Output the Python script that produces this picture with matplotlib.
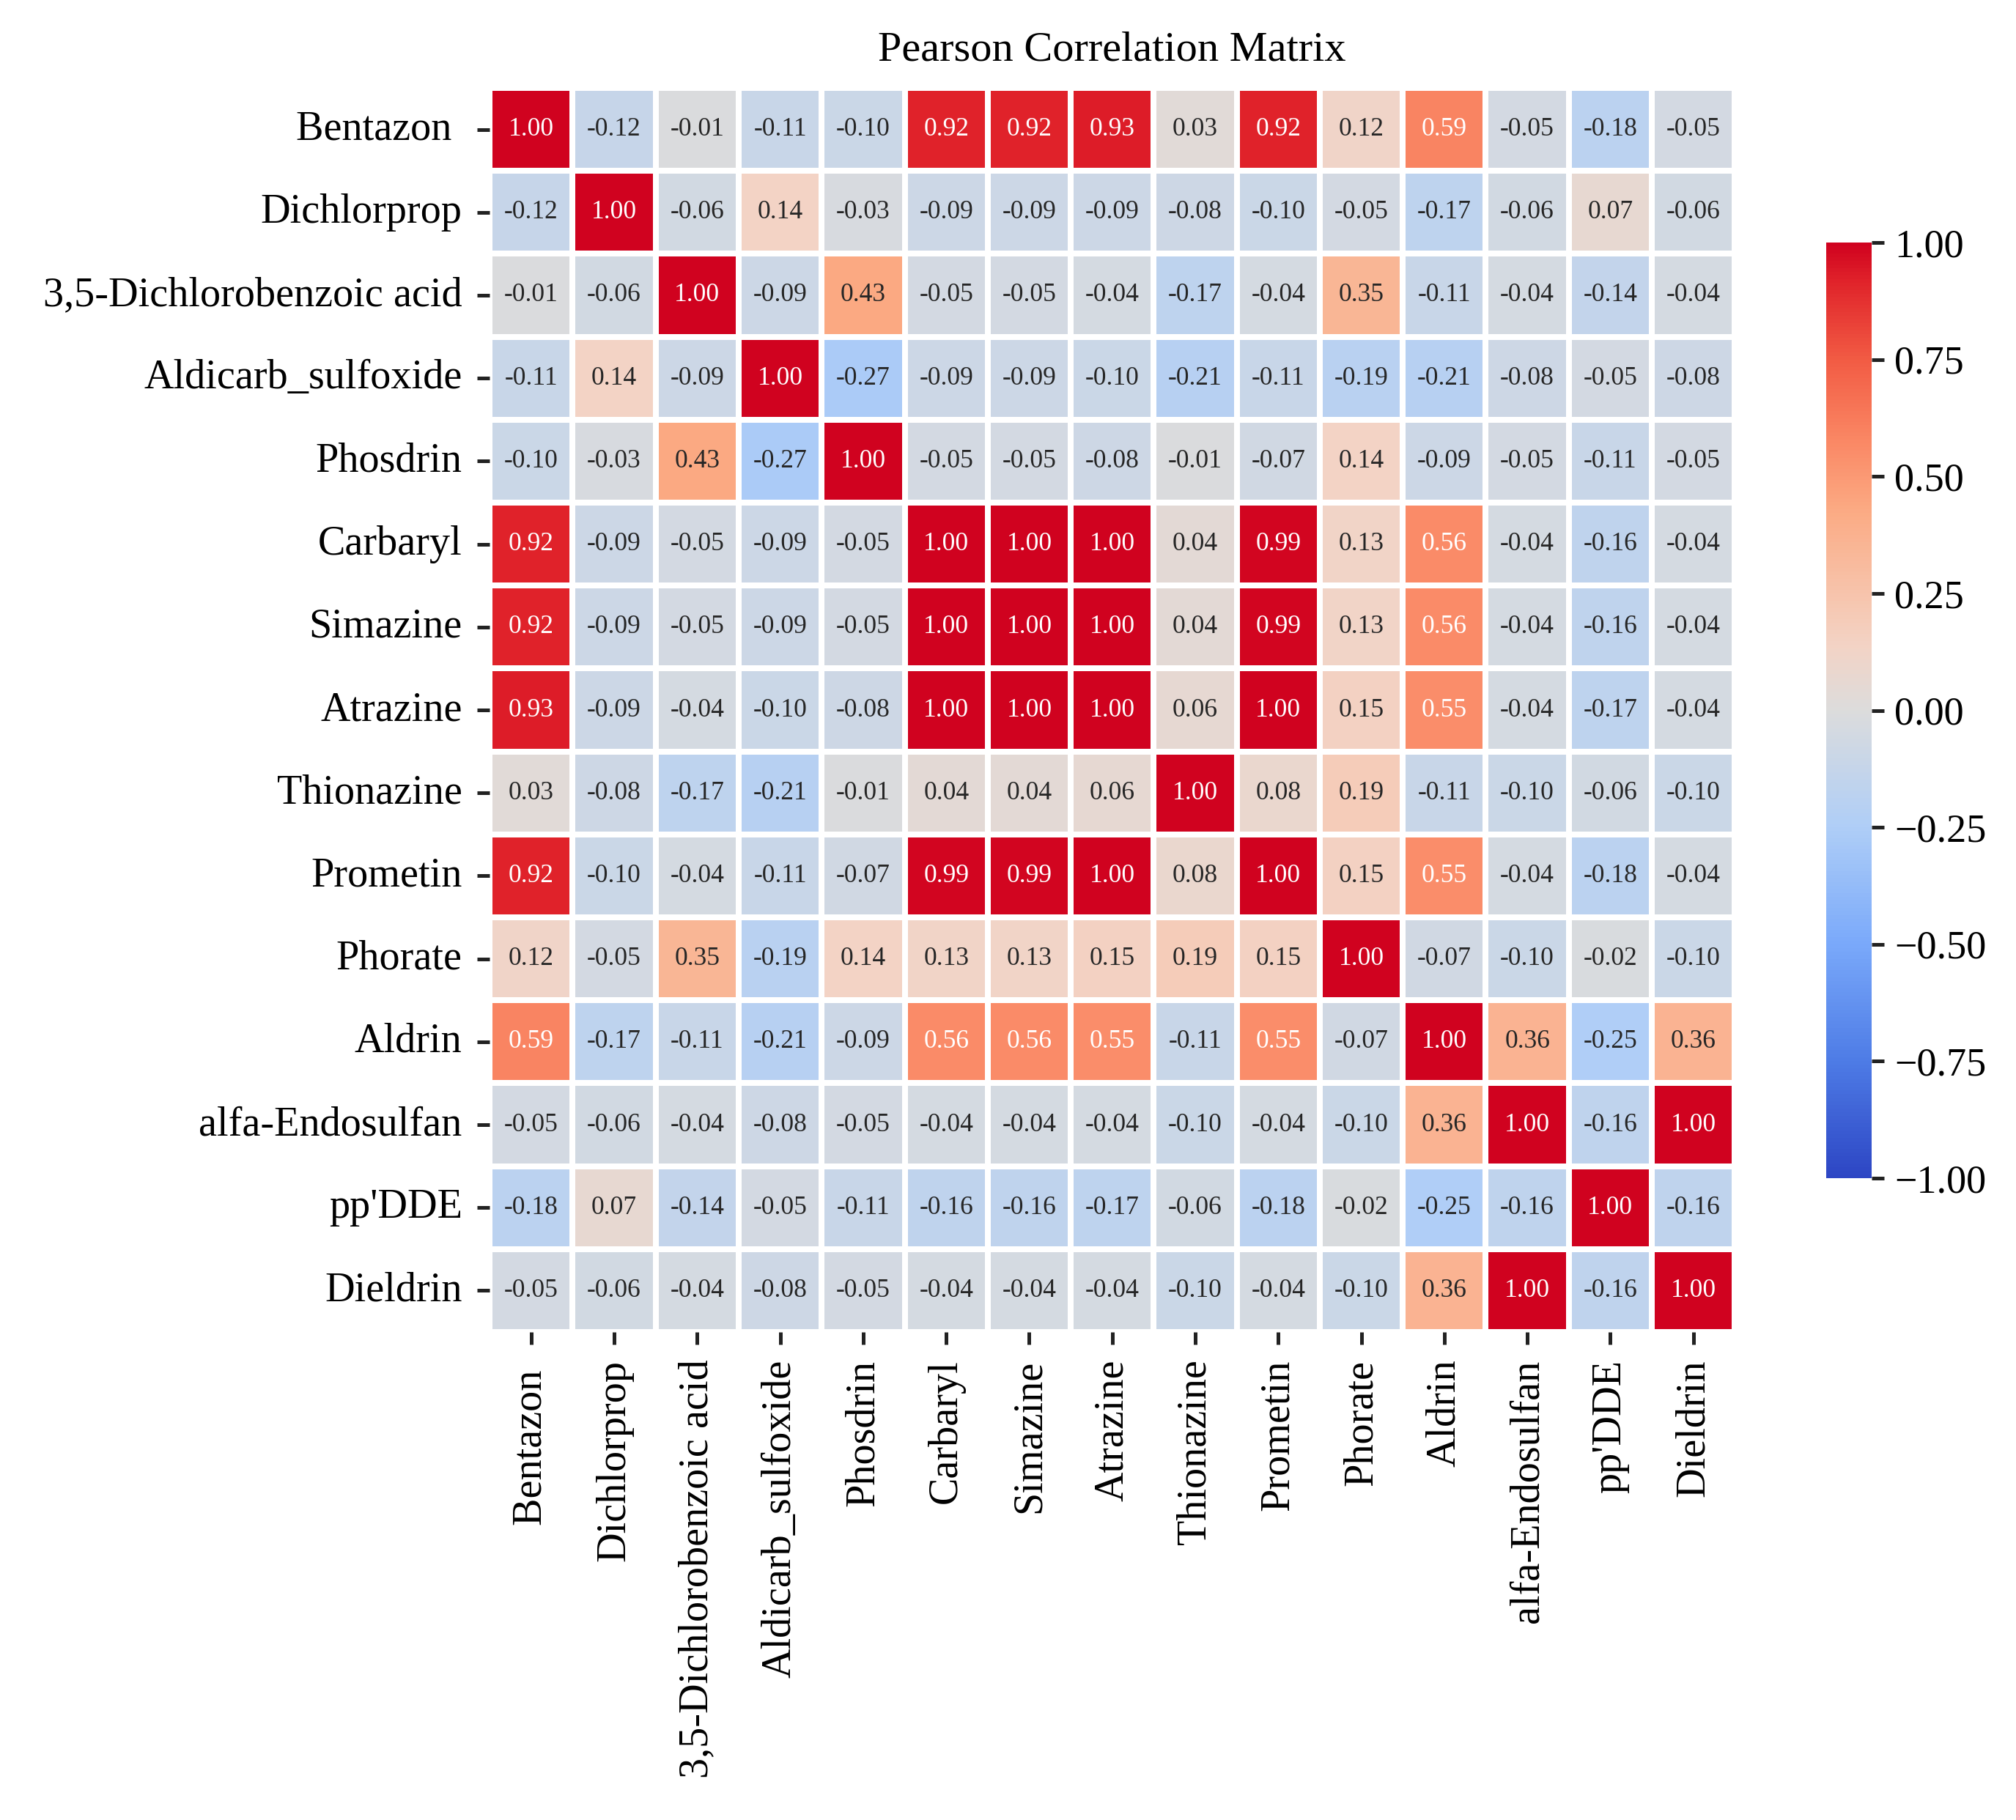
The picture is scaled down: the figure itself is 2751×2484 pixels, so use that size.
import numpy as np
import pandas as pd
import matplotlib
matplotlib.use("Agg")
import matplotlib.pyplot as plt
from matplotlib.colors import LinearSegmentedColormap
import seaborn as sns

labels = ["Bentazon ", "Dichlorprop", "3,5-Dichlorobenzoic acid", "Aldicarb_sulfoxide",
          "Phosdrin", "Carbaryl", "Simazine", "Atrazine", "Thionazine", "Prometin",
          "Phorate", "Aldrin", "alfa-Endosulfan", "pp'DDE", "Dieldrin"]

bentazon    = [1.00, -0.12, -0.01, -0.11, -0.10, 0.92, 0.92, 0.93, 0.03, 0.92, 0.12, 0.59, -0.05, -0.18, -0.05]
dichlorprop = [-0.12, 1.00, -0.06, 0.14, -0.03, -0.09, -0.09, -0.09, -0.08, -0.10, -0.05, -0.17, -0.06, 0.07, -0.06]
dcba        = [-0.01, -0.06, 1.00, -0.09, 0.43, -0.05, -0.05, -0.04, -0.17, -0.04, 0.35, -0.11, -0.04, -0.14, -0.04]
aldicarb    = [-0.11, 0.14, -0.09, 1.00, -0.27, -0.09, -0.09, -0.10, -0.21, -0.11, -0.19, -0.21, -0.08, -0.05, -0.08]
phosdrin    = [-0.10, -0.03, 0.43, -0.27, 1.00, -0.05, -0.05, -0.08, -0.01, -0.07, 0.14, -0.09, -0.05, -0.11, -0.05]
carbaryl    = [0.92, -0.09, -0.05, -0.09, -0.05, 1.00, 1.00, 1.00, 0.04, 0.99, 0.13, 0.56, -0.04, -0.16, -0.04]
simazine    = [0.92, -0.09, -0.05, -0.09, -0.05, 1.00, 1.00, 1.00, 0.04, 0.99, 0.13, 0.56, -0.04, -0.16, -0.04]
atrazine    = [0.93, -0.09, -0.04, -0.10, -0.08, 1.00, 1.00, 1.00, 0.06, 1.00, 0.15, 0.55, -0.04, -0.17, -0.04]
thionazine  = [0.03, -0.08, -0.17, -0.21, -0.01, 0.04, 0.04, 0.06, 1.00, 0.08, 0.19, -0.11, -0.10, -0.06, -0.10]
prometin    = [0.92, -0.10, -0.04, -0.11, -0.07, 0.99, 0.99, 1.00, 0.08, 1.00, 0.15, 0.55, -0.04, -0.18, -0.04]
phorate     = [0.12, -0.05, 0.35, -0.19, 0.14, 0.13, 0.13, 0.15, 0.19, 0.15, 1.00, -0.07, -0.10, -0.02, -0.10]
aldrin      = [0.59, -0.17, -0.11, -0.21, -0.09, 0.56, 0.56, 0.55, -0.11, 0.55, -0.07, 1.00, 0.36, -0.25, 0.36]
endosulfan  = [-0.05, -0.06, -0.04, -0.08, -0.05, -0.04, -0.04, -0.04, -0.10, -0.04, -0.10, 0.36, 1.00, -0.16, 1.00]
ppdde       = [-0.18, 0.07, -0.14, -0.05, -0.11, -0.16, -0.16, -0.17, -0.06, -0.18, -0.02, -0.25, -0.16, 1.00, -0.16]
dieldrin    = [-0.05, -0.06, -0.04, -0.08, -0.05, -0.04, -0.04, -0.04, -0.10, -0.04, -0.10, 0.36, 1.00, -0.16, 1.00]

cbar_ticks = [-1.00, -0.75, -0.50, -0.25, 0.00, 0.25, 0.50, 0.75, 1.00]

rows = [bentazon, dichlorprop, dcba, aldicarb, phosdrin, carbaryl, simazine, atrazine,
        thionazine, prometin, phorate, aldrin, endosulfan, ppdde, dieldrin]
corr = pd.DataFrame(rows, index=labels, columns=labels)

# saturated coolwarm-like colormap
anchors = [
    (0.000, "#2D46C4"),
    (0.125, "#4E7CE6"),
    (0.250, "#7AA9FA"),
    (0.375, "#AFCEF7"),
    (0.500, "#DCDCDC"),
    (0.570, "#F3D3C5"),
    (0.625, "#F7C4AC"),
    (0.715, "#FBAA83"),
    (0.790, "#FA8764"),
    (0.875, "#F25C44"),
    (0.960, "#E0232A"),
    (1.000, "#D0021F"),
]
cmap = LinearSegmentedColormap.from_list("cw", anchors)

plt.rcParams["font.family"] = ["Liberation Serif", "DejaVu Serif"]
plt.rcParams["axes.unicode_minus"] = True

fig = plt.figure(figsize=(2751 / 300, 2484 / 300), dpi=300)
ax = fig.add_axes([0.2429, 0.2681, 0.6176, 0.6836])
cax = fig.add_axes([0.9058, 0.3527, 0.0226, 0.5140])

sns.heatmap(corr, ax=ax, cbar_ax=cax, cmap=cmap, vmin=-1, vmax=1, annot=True, fmt=".2f",
            annot_kws={"size": 8.5}, linewidths=1.5, linecolor="white", square=False,
            cbar_kws={"ticks": cbar_ticks})

ax.set_title("Pearson Correlation Matrix", fontsize=14, pad=9)
ax.tick_params(axis="both", which="major", labelsize=13.5, length=4, width=1.2, pad=5,
               color="#222222")
ax.set_xticklabels(labels, rotation=90)
ax.set_yticklabels(labels, rotation=0)
cax.yaxis.set_major_formatter(matplotlib.ticker.FuncFormatter(
    lambda v, p: ("%.2f" % v).replace("-", "\u2212")))
cax.tick_params(labelsize=13, length=4, width=1.2, pad=3.5, color="#222222")

fig.savefig("out.png", dpi=300)
